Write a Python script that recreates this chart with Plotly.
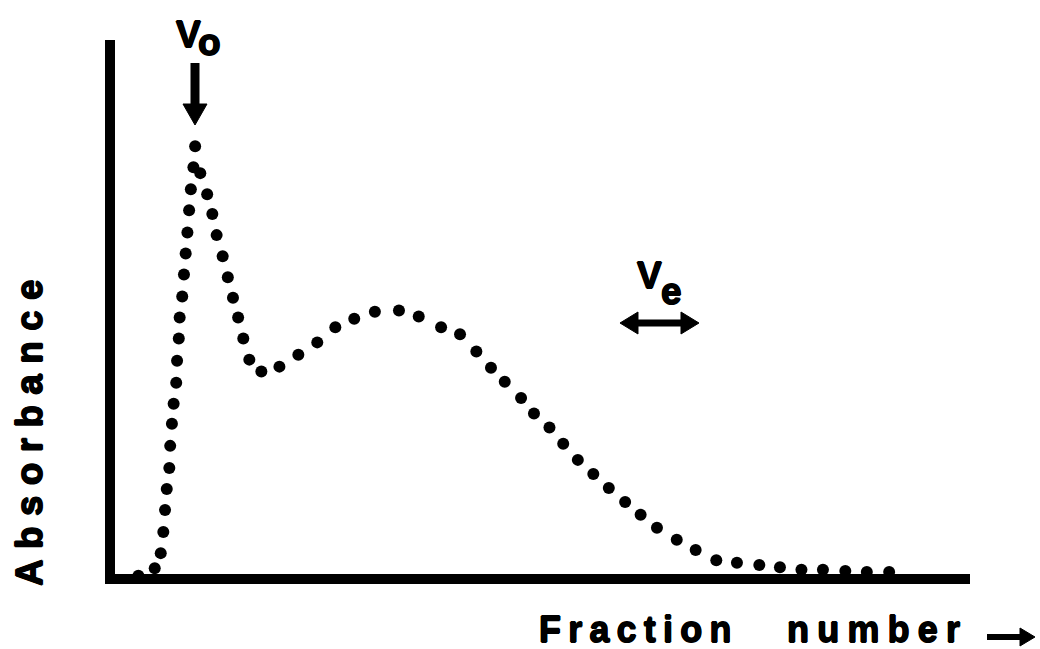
import plotly.graph_objects as go

# Elution profile: fraction number vs absorbance (arbitrary units, 0-100)
fraction = [3.3, 5.2, 5.9, 6.2, 6.4, 6.6, 6.9, 7.0, 7.2, 7.4, 7.7, 7.8, 8.0, 8.1,
            8.4, 8.6, 8.8, 9.0, 9.2, 9.4, 9.7, 9.9, 10.5, 11.3, 11.9, 12.4, 13.1,
            13.7, 14.3, 14.9, 15.5, 16.2, 17.6, 19.7, 21.9, 24.1, 26.2, 28.4,
            30.8, 33.6, 35.9, 38.5, 40.7, 42.6, 44.3, 45.9, 47.8, 49.3, 51.1,
            52.7, 54.4, 56.2, 58.0, 59.9, 61.7, 63.6, 65.9, 68.1, 70.5, 72.9,
            75.5, 77.9, 80.4, 82.9, 85.5, 88.0, 90.6]
absorbance = [0.6, 2.0, 4.8, 8.7, 12.8, 16.7, 20.6, 24.7, 28.8, 32.5, 36.4, 40.5,
              44.6, 48.5, 52.4, 56.5, 60.4, 64.3, 68.4, 72.3, 76.4, 80.3, 75.3,
              71.4, 67.7, 63.8, 59.9, 56.0, 52.2, 48.5, 44.6, 40.7, 38.5, 39.4,
              41.6, 43.9, 46.7, 48.3, 49.6, 49.8, 48.7, 46.7, 45.4, 42.2, 39.2,
              36.6, 33.6, 30.7, 28.1, 25.1, 22.1, 19.5, 16.9, 14.3, 11.9, 9.5,
              7.3, 5.4, 3.5, 3.0, 2.6, 2.2, 1.7, 1.7, 1.5, 1.3, 1.3]

x_title_words = ["Fraction", "number"]
y_title = "Absorbance"
void_label = ("V", "o")
elution_label = ("V", "e")

W, H = 1040, 649
L, R, T, B = 110, 70, 40, 70
PW, PH = W - L - R, H - T - B
FONT = "Liberation Sans"
HEAVY = "0.7px 0 0 black, -0.7px 0 0 black, 0 0.7px 0 black, 0 -0.7px 0 black"


def px(xp):
    return (xp - L) / PW


def py(yp):
    return (H - B - yp) / PH


def poly(points):
    return "M " + " L ".join(f"{px(a):.5f},{py(b):.5f}" for a, b in points) + " Z"


fig = go.Figure()
fig.add_trace(go.Scatter(
    x=fraction, y=absorbance, mode="markers",
    marker=dict(size=12, color="black", line=dict(width=0)),
    cliponaxis=False, hoverinfo="skip", showlegend=False,
))

shapes = [
    # axes
    dict(type="line", xref="paper", yref="paper", x0=px(110), y0=py(40), x1=px(110), y1=py(584),
         line=dict(color="black", width=10)),
    dict(type="line", xref="paper", yref="paper", x0=px(105), y0=py(579), x1=px(970), y1=py(579),
         line=dict(color="black", width=10)),
    # V0 arrow
    dict(type="line", xref="paper", yref="paper", x0=px(195), y0=py(63), x1=px(195), y1=py(108),
         line=dict(color="black", width=9)),
    dict(type="path", xref="paper", yref="paper", path=poly([(183, 104), (207, 104), (195, 125)]),
         fillcolor="black", line=dict(color="black", width=1)),
    # Ve double arrow
    dict(type="line", xref="paper", yref="paper", x0=px(634), y0=py(323), x1=px(685), y1=py(323),
         line=dict(color="black", width=7)),
    dict(type="path", xref="paper", yref="paper", path=poly([(620, 323), (638, 312), (638, 334)]),
         fillcolor="black", line=dict(color="black", width=1)),
    dict(type="path", xref="paper", yref="paper", path=poly([(699, 323), (681, 312), (681, 334)]),
         fillcolor="black", line=dict(color="black", width=1)),
    # x title arrow
    dict(type="line", xref="paper", yref="paper", x0=px(987), y0=py(637), x1=px(1022), y1=py(637),
         line=dict(color="black", width=6)),
    dict(type="path", xref="paper", yref="paper", path=poly([(1035, 637), (1020, 628), (1020, 646)]),
         fillcolor="black", line=dict(color="black", width=1)),
]


def label(text, xp, yp, size=37, spacing=None, angle=0, xanchor="center"):
    if spacing is not None:
        text = f'<span style="letter-spacing:{spacing}px">{text}</span>'
    return dict(text=text, xref="paper", yref="paper", x=px(xp), y=py(yp),
                xanchor=xanchor, yanchor="middle", showarrow=False, textangle=angle,
                font=dict(family=FONT, size=size, color="black", weight="bold", shadow=HEAVY))


annotations = [
    label(void_label[0], 188, 34),
    label(void_label[1], 209, 43),
    label(elution_label[0], 649, 275),
    label(elution_label[1], 671, 291),
    label(x_title_words[0], 537, 629, size=36, spacing=7.2, xanchor="left"),
    label(x_title_words[1], 785, 629, size=36, spacing=8.2, xanchor="left"),
    label(y_title, 29, 428, spacing=10.3, angle=-90),
]

fig.update_layout(
    width=W, height=H,
    margin=dict(l=L, r=R, t=T, b=B, pad=0),
    paper_bgcolor="white", plot_bgcolor="white",
    xaxis=dict(range=[0, 100], visible=False, fixedrange=True),
    yaxis=dict(range=[0, 100], visible=False, fixedrange=True),
    shapes=shapes, annotations=annotations,
    showlegend=False,
)

fig.write_html("out.html", config={"displayModeBar": False})
